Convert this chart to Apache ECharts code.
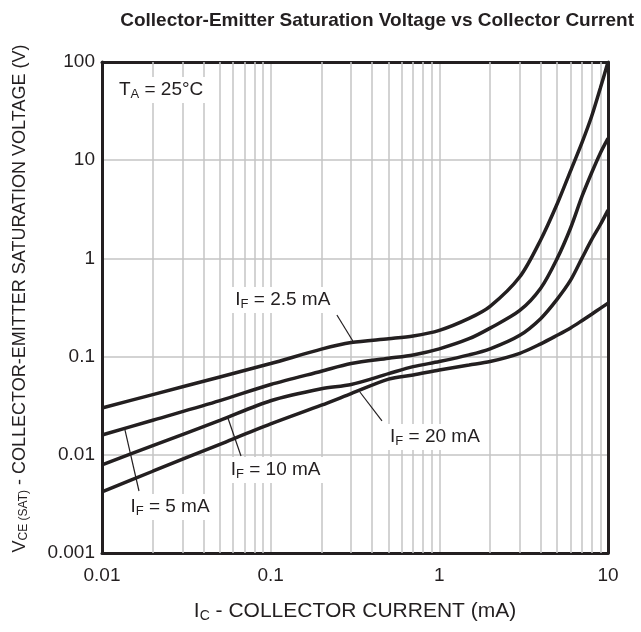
<!DOCTYPE html>
<html>
<head>
<meta charset="utf-8">
<script src="https://cdn.jsdelivr.net/npm/echarts@6/dist/echarts.min.js"></script>
<style>
  html, body { margin: 0; padding: 0; background: #fff; }
  #chart { width: 641px; height: 632px; }
</style>
</head>
<body>
<div id="chart"></div>
<script>
// collector current (mA), shared by all curves
const icValues = [0.01, 0.02, 0.05, 0.1, 0.2, 0.3, 0.5, 0.7, 1, 1.5, 2, 3, 4, 5, 6, 7, 8, 9, 10];
// VCE(sat) in volts, one list per forward current
const vceIf2p5 = [0.030, 0.041, 0.062, 0.085, 0.119, 0.139, 0.152, 0.162, 0.185, 0.245, 0.325, 0.65, 1.56, 3.6, 7.8, 15, 28, 54, 100];
const vceIf5 = [0.0159, 0.0225, 0.0356, 0.052, 0.071, 0.085, 0.096, 0.104, 0.120, 0.152, 0.195, 0.295, 0.5, 1.0, 2.04, 4.25, 7.45, 11.8, 16.7];
const vceIf10 = [0.0079, 0.0124, 0.0224, 0.0355, 0.047, 0.052, 0.067, 0.079, 0.089, 0.104, 0.12, 0.165, 0.245, 0.385, 0.6, 1.0, 1.55, 2.2, 3.1];
const vceIf20 = [0.0042, 0.0068, 0.0128, 0.0206, 0.032, 0.042, 0.059, 0.065, 0.073, 0.082, 0.089, 0.108, 0.135, 0.165, 0.196, 0.232, 0.27, 0.31, 0.35];

// curve labels: text, label position, leader line start/end (data coords)
const curveLabels = [
  { name: '2.5 mA', at: [0.118, 0.377], from: [0.247, 0.265], to: [0.307, 0.144] },
  { name: '5 mA', at: [0.0253, 0.00294], from: [0.01657, 0.00428], to: [0.01368, 0.0179] },
  { name: '10 mA', at: [0.107, 0.0070], from: [0.0667, 0.00973], to: [0.0558, 0.0237] },
  { name: '20 mA', at: [0.942, 0.0152], from: [0.457, 0.0221], to: [0.338, 0.0436] }
];
const tempLabelAt = [0.0224, 52];

const ink = '#231f20';
const gridGray = '#c4c4c4';
const font = 'Liberation Sans, Arial, sans-serif';

// minor grid lines 2..9 in each x decade
const minorX = [];
[0.01, 0.1, 1].forEach(d => {
  for (let k = 2; k <= 9; k++) minorX.push(+(d * k).toPrecision(2));
});

const fmt = v => String(+Number(v).toPrecision(3));

const textRich = {
  n: { fontSize: 19, fontFamily: font, color: ink },
  s: { fontSize: 13, fontFamily: font, color: ink, padding: [9, 0, 0, 0] }
};

function curve(vals) {
  return {
    type: 'line',
    data: icValues.map((x, i) => [x, vals[i]]),
    showSymbol: false,
    smooth: 0.3,
    lineStyle: { color: ink, width: 3.5 },
    z: 5,
    silent: true
  };
}

const chart = echarts.init(document.getElementById('chart'));
chart.setOption({
  animation: false,
  backgroundColor: '#fff',
  title: {
    text: 'Collector-Emitter Saturation Voltage vs Collector Current',
    right: 2,
    top: 6,
    textStyle: { fontSize: 19, fontWeight: 'bold', fontFamily: font, color: ink }
  },
  grid: { left: 102, top: 62, right: 33, bottom: 79, show: false },
  xAxis: [{
    type: 'log',
    logBase: 10,
    min: 0.01,
    max: 10,
    name: '{n|I}{s|C}{n| - COLLECTOR CURRENT (mA)}',
    nameLocation: 'middle',
    nameGap: 47,
    nameTextStyle: { rich: {
      n: { fontSize: 21, fontFamily: font, color: ink },
      s: { fontSize: 14, fontFamily: font, color: ink, padding: [9, 0, 0, 0] }
    } },
    axisLine: { show: true, lineStyle: { color: ink, width: 3 } },
    axisTick: { show: false },
    axisLabel: { color: ink, fontSize: 19, fontFamily: font, margin: 13, formatter: fmt },
    splitLine: { show: true, showMinLine: false, showMaxLine: false, lineStyle: { color: gridGray, width: 1.5 } }
  }, {
    type: 'log', position: 'top', min: 0.01, max: 10,
    axisLine: { show: true, lineStyle: { color: ink, width: 3 } },
    axisTick: { show: false }, axisLabel: { show: false }, splitLine: { show: false }
  }],
  yAxis: [{
    type: 'log',
    logBase: 10,
    min: 0.001,
    max: 100,
    name: '{n|V}{s|CE (SAT)}{n| - COLLECTOR-EMITTER SATURATION VOLTAGE (V)}',
    nameLocation: 'middle',
    nameGap: 72,
    nameTextStyle: {
      padding: [0, 0, 0, 18],
      rich: {
        n: { fontSize: 18, fontFamily: font, color: ink },
        s: { fontSize: 12, fontFamily: font, color: ink, padding: [8, 0, 0, 0] }
      }
    },
    axisLine: { show: true, lineStyle: { color: ink, width: 3 } },
    axisTick: { show: false },
    axisLabel: { color: ink, fontSize: 19, fontFamily: font, margin: 7, formatter: fmt },
    splitLine: { show: true, showMinLine: false, showMaxLine: false, lineStyle: { color: gridGray, width: 1.5 } }
  }, {
    type: 'log', position: 'right', min: 0.001, max: 100,
    axisLine: { show: true, lineStyle: { color: ink, width: 3 } },
    axisTick: { show: false }, axisLabel: { show: false }, splitLine: { show: false }
  }],
  series: [
    {
      // minor x grid
      type: 'line',
      data: [],
      z: 1,
      silent: true,
      markLine: {
        silent: true,
        symbol: 'none',
        animation: false,
        label: { show: false },
        lineStyle: { color: gridGray, width: 1.5, type: 'solid' },
        data: minorX.map(v => ({ xAxis: v }))
      }
    },
    curve(vceIf2p5),
    curve(vceIf5),
    curve(vceIf10),
    curve(vceIf20),
    {
      // labels and leader lines
      type: 'line',
      data: [],
      z: 6,
      silent: true,
      markLine: {
        silent: true,
        symbol: 'none',
        animation: false,
        label: { show: false },
        lineStyle: { color: ink, width: 1.2, type: 'solid' },
        data: curveLabels.map(c => [{ coord: c.from }, { coord: c.to }])
      },
      markPoint: {
        silent: true,
        symbol: 'circle',
        symbolSize: 0,
        animation: false,
        label: {
          show: true,
          position: 'inside',
          backgroundColor: '#fff',
          padding: [2, 5, 2, 5],
          rich: textRich
        },
        data: curveLabels.map(c => ({
          coord: c.at,
          label: { formatter: '{n|I}{s|F}{n| = ' + c.name + '}' }
        })).concat([{
          coord: tempLabelAt,
          label: { formatter: '{n|T}{s|A}{n| = 25°C}' }
        }])
      }
    }
  ]
});
</script>
</body>
</html>
